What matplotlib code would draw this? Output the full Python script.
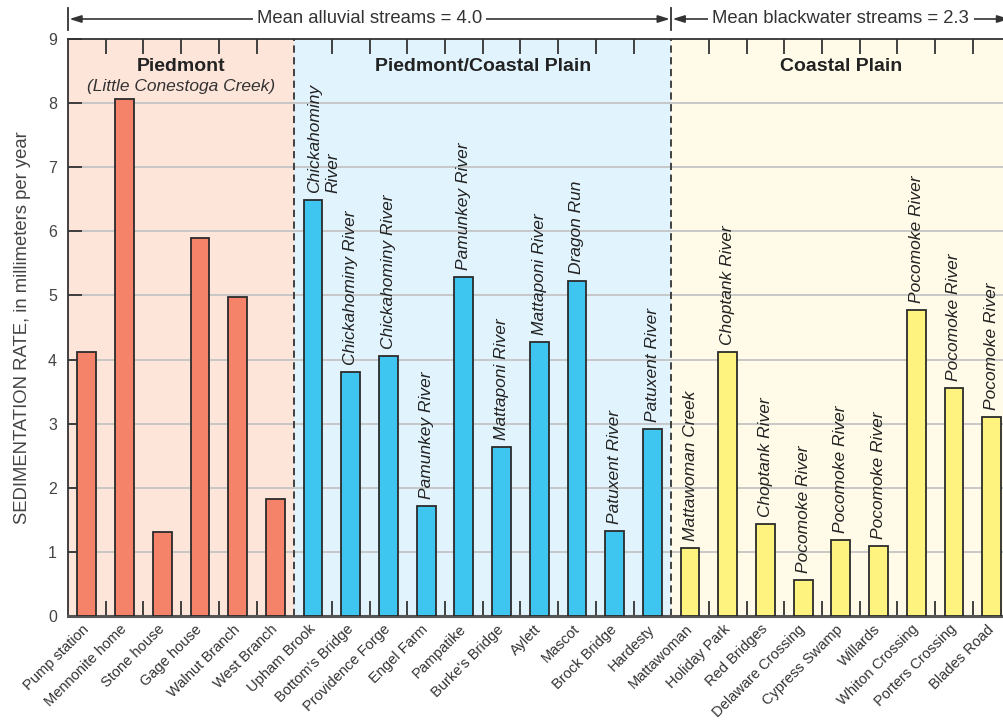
import matplotlib
matplotlib.use("Agg")
import matplotlib.pyplot as plt
import matplotlib.transforms as mtransforms
import numpy as np

plt.rcParams['font.family'] = ['Liberation Sans', 'DejaVu Sans']

# Sites, grouped by physiographic province
piedmont_sites = ["Pump station", "Mennonite home", "Stone house", "Gage house",
                  "Walnut Branch", "West Branch"]
piedmont_rates = [4.12, 8.06, 1.31, 5.89, 4.98, 1.82]
piedmont_rivers = ["", "", "", "", "", ""]

transition_sites = ["Upham Brook", "Bottom's Bridge", "Providence Forge", "Engel Farm",
                    "Pampatike", "Burke's Bridge", "Aylett", "Mascot",
                    "Brock Bridge", "Hardesty"]
transition_rates = [6.49, 3.81, 4.06, 1.72, 5.29, 2.64, 4.27, 5.23, 1.32, 2.92]
transition_rivers = ["Chickahominy\nRiver", "Chickahominy River", "Chickahominy River",
                     "Pamunkey River", "Pamunkey River", "Mattaponi River",
                     "Mattaponi River", "Dragon Run", "Patuxent River", "Patuxent River"]

coastal_sites = ["Mattawoman", "Holiday Park", "Red Bridges", "Delaware Crossing",
                 "Cypress Swamp", "Willards", "Whiton Crossing", "Porters Crossing",
                 "Blades Road"]
coastal_rates = [1.06, 4.12, 1.44, 0.56, 1.19, 1.09, 4.78, 3.55, 3.11]
coastal_rivers = ["Mattawoman Creek", "Choptank River", "Choptank River",
                  "Pocomoke River", "Pocomoke River", "Pocomoke River",
                  "Pocomoke River", "Pocomoke River", "Pocomoke River"]

group_titles = ["Piedmont", "Piedmont/Coastal Plain", "Coastal Plain"]
mean_alluvial = 4.0
mean_blackwater = 2.3

groups = [
    (piedmont_sites, piedmont_rates, piedmont_rivers, "#fde5da", "#f4836a"),
    (transition_sites, transition_rates, transition_rivers, "#e1f3fd", "#3ec6f0"),
    (coastal_sites, coastal_rates, coastal_rivers, "#fffbe8", "#fff380"),
]

fig = plt.figure(figsize=(10.04, 7.23), dpi=100)
ax = fig.add_axes([68 / 1004, 107 / 723, 942.5 / 1004, 577 / 723])

n_total = sum(len(g[0]) for g in groups)
ax.set_xlim(-0.5, n_total - 0.5)
ax.set_ylim(0, 9)

# horizontal grid behind the bars
for yv in range(1, 9):
    ax.axhline(yv, color="#c4c4c4", lw=1.3, zorder=1)

all_sites = []
bounds = []
start = 0
for sites, rates, rivers, bg, fc in groups:
    x = np.arange(start, start + len(sites))
    ax.axvspan(start - 0.5, start + len(sites) - 0.5, color=bg, zorder=0, lw=0)
    ax.bar(x, rates, width=0.5, color=fc, edgecolor="#2b2b2b", lw=1.3, zorder=3)
    for xi, r, lab in zip(x, rates, rivers):
        if not lab:
            continue
        dx = 0.28 if "\n" in lab else 0
        ax.annotate(lab, (xi + dx, r), xytext=(0, 5), textcoords="offset points",
                    rotation=90, ha="center", va="bottom", style="italic",
                    fontsize=12.5, color="#222222", multialignment="left",
                    linespacing=1.25, zorder=4)
    all_sites += sites
    start += len(sites)
    bounds.append(start - 0.5)

# dashed lines between provinces
for b in bounds[:-1]:
    ax.axvline(b, color="#333333", lw=1.3, ls=(0, (4, 2.5)), zorder=2)

# x tick labels
ax.set_xticks(np.arange(n_total))
ax.set_xticklabels(all_sites, rotation=45, ha="right", va="center",
                   rotation_mode="anchor", fontsize=10.5, color="#333333")
ax.tick_params(axis="x", which="major", length=0, pad=8)

# small tick marks between bars, top and bottom
minor = [i + 0.5 for i in range(n_total - 1) if i + 0.5 not in bounds]
ax.set_xticks(minor, minor=True)
ax.tick_params(axis="x", which="minor", direction="in", length=11, width=1.3,
               top=True, bottom=True, color="#333333")

ax.set_yticks(range(0, 10))
ax.tick_params(axis="y", direction="in", length=10, width=1.3, labelsize=11.5,
               labelcolor="#444444", color="#333333", pad=8)
ax.set_ylabel("SEDIMENTATION RATE, in millimeters per year", fontsize=13.3,
              color="#444444", labelpad=12)

for side in ["left", "top", "right"]:
    ax.spines[side].set_color("#333333")
    ax.spines[side].set_linewidth(1.3)
ax.spines["bottom"].set_color("#555555")
ax.spines["bottom"].set_linewidth(2.2)

# province titles
centers = [(-0.5 + bounds[0]) / 2, (bounds[0] + bounds[1]) / 2, (bounds[1] + bounds[2]) / 2]
trans = mtransforms.blended_transform_factory(ax.transData, ax.transAxes)
for c, t in zip(centers, group_titles):
    ax.text(c, 0.953, t, transform=trans, ha="center", va="center",
            fontsize=14, fontweight="bold", color="#222222")
ax.text(centers[0], 0.917, "(Little Conestoga Creek)", transform=trans, ha="center",
        va="center", fontsize=12.5, style="italic", color="#333333")

# mean bracket arrows above the frame
y_arrow = 1 + 20 / 577
spans = [(-0.5, bounds[1], f"Mean alluvial streams = {mean_alluvial:.1f}"),
         (bounds[1], n_total - 0.5, f"Mean blackwater streams = {mean_blackwater:.1f}")]
for x0, x1, label in spans:
    ax.annotate("", xy=(x0, y_arrow), xytext=(x1, y_arrow), xycoords=trans,
                textcoords=trans,
                arrowprops=dict(arrowstyle="<|-|>,head_length=0.7,head_width=0.22",
                                color="#333333", lw=1.2, shrinkA=1, shrinkB=1),
                annotation_clip=False)
    ax.text((x0 + x1) / 2, y_arrow, label, transform=trans, ha="center", va="center",
            fontsize=13.3, color="#333333",
            bbox=dict(facecolor="white", edgecolor="none", pad=3), clip_on=False)
for xb in [-0.5, bounds[1]]:
    ax.plot([xb, xb], [1 + 9 / 577, 1 + 31 / 577], transform=trans, color="#333333",
            lw=1.3, clip_on=False)

fig.savefig("out.png", dpi=100)
